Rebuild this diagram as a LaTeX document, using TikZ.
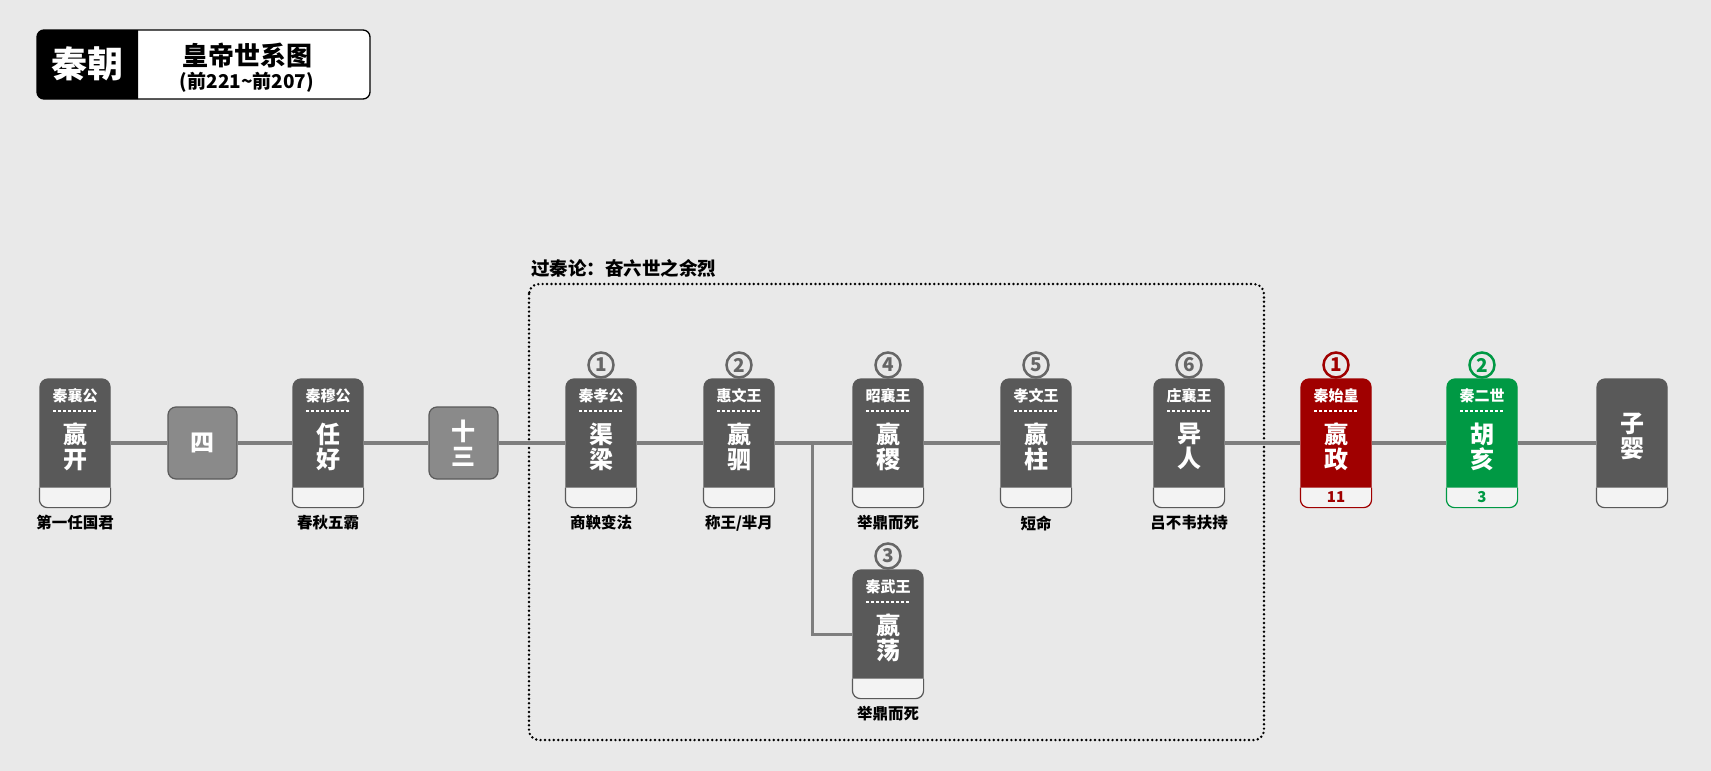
\documentclass[tikz,border=0pt]{standalone}
\usepackage{fontspec}
\setmainfont{Noto Sans CJK SC}
\definecolor{paper}{HTML}{E9E9E9}
\definecolor{cardgray}{HTML}{595959}
\definecolor{boxgray}{HTML}{8A8A8A}
\definecolor{boxborder}{HTML}{5A5A5A}
\definecolor{qred}{HTML}{A00000}
\definecolor{qgreen}{HTML}{009944}
\definecolor{lightpart}{HTML}{F3F3F3}
\definecolor{linegray}{HTML}{7E7E7E}
\definecolor{numgray}{HTML}{666666}
\tikzset{
  card/.style={rounded corners=8pt, minimum width=70pt, minimum height=128pt, inner sep=0pt, line width=1.2pt},
  genbox/.style={rounded corners=8pt, minimum width=69pt, minimum height=72pt, inner sep=0pt, line width=1.2pt,
    fill=boxgray, draw=boxborder, text=white, align=center, font=\bfseries\fontsize{24}{25}\selectfont},
  cardtitle/.style={text=white, font=\bfseries\fontsize{15}{15}\selectfont, inner sep=0pt},
  cardname/.style={text=white, font=\bfseries\fontsize{24}{25}\selectfont, align=center, inner sep=0pt},
  caption/.style={text=black, font=\bfseries\fontsize{15.5}{15.5}\selectfont, inner sep=0pt},
  bottomtext/.style={font=\bfseries\fontsize{15}{15}\selectfont, inner sep=0pt},
  numcircle/.style={circle, draw=#1, text=#1, line width=2.5pt, minimum size=25pt, inner sep=0pt,
    font=\bfseries\fontsize{19}{19}\selectfont},
  mainline/.style={draw=linegray, line width=4pt},
  dotbox/.style={draw=black, line width=2.7pt, dash pattern=on 0pt off 4.4pt, line cap=round, rounded corners=10pt},
}
\newcommand{\qcard}[6]{%
  \node[card, fill=#4, draw=#4] (#1) at (#2,#3) {};
  \path[fill=lightpart, draw=#4, line width=1.2pt, rounded corners=8pt]
    ([yshift=20pt]#1.south west) -- (#1.south west) -- (#1.south east) -- ([yshift=20pt]#1.south east);
  \node[cardtitle] (#1-t) at ([yshift=47pt]#1.center) {#5};
  \draw[white, line width=1.4pt, dash pattern=on 3pt off 2pt]
    ([xshift=-22pt,yshift=32pt]#1.center) -- ([xshift=22pt,yshift=32pt]#1.center);
  \node[cardname] (#1-n) at ([yshift=-3.5pt]#1.center) {#6};
}
\begin{document}
\begin{tikzpicture}[x=1pt,y=-1pt]
\fill[paper] (0,0) rectangle (1711,771);
\useasboundingbox (0,0) rectangle (1711,771);

% title box
\filldraw[fill=white, draw=black, line width=1.3pt, rounded corners=7pt] (37,30) rectangle (370,99);
\fill[black, rounded corners=7pt] (87,30) -- (37,30) -- (37,99) -- (87,99) [sharp corners] -- (138,99) -- (138,30) -- cycle;
\node[text=white, font=\bfseries\fontsize{36}{36}\selectfont, inner sep=0pt] (dyn) at (87,64) {秦朝};
\node[font=\bfseries\fontsize{26}{26}\selectfont, inner sep=0pt] (ttl) at (247,56) {皇帝世系图};
\node[font=\bfseries\fontsize{19}{19}\selectfont, inner sep=0pt] (yrs) at (247,82) {(前221\textasciitilde 前207)};

% dotted group
\draw[dotbox] (529,284) rectangle (1264,740);
\node[anchor=west, font=\bfseries\fontsize{18.5}{18.5}\selectfont, inner sep=0pt] (glabel) at (531,268) {过秦论：奋六世之余烈};

% generation boxes
\node[genbox] (si) at (202.5,443) {四};
\node[genbox] (ss) at (463.5,443) {十\\三};

% cards
\qcard{c1}{75}{443}{cardgray}{秦襄公}{嬴\\开}
\qcard{c2}{328}{443}{cardgray}{秦穆公}{任\\好}
\qcard{c3}{601}{443}{cardgray}{秦孝公}{渠\\梁}
\qcard{c4}{739}{443}{cardgray}{惠文王}{嬴\\驷}
\qcard{c5}{888}{443}{cardgray}{昭襄王}{嬴\\稷}
\qcard{c6}{1036}{443}{cardgray}{孝文王}{嬴\\柱}
\qcard{c7}{1189}{443}{cardgray}{庄襄王}{异\\人}
\qcard{c8}{1336}{443}{qred}{秦始皇}{嬴\\政}
\qcard{c9}{1482}{443}{qgreen}{秦二世}{胡\\亥}
\qcard{wu}{888}{634}{cardgray}{秦武王}{嬴\\荡}

% last card (no title)
\node[card, fill=cardgray, draw=cardgray] (c10) at (1632,443) {};
\path[fill=lightpart, draw=cardgray, line width=1.2pt, rounded corners=8pt]
  ([yshift=20pt]c10.south west) -- (c10.south west) -- (c10.south east) -- ([yshift=20pt]c10.south east);
\node[cardname] (c10-n) at ([yshift=7pt]c10.center) {子\\婴};

% bottom numbers
\node[bottomtext, text=qred] (c8-b) at ([yshift=-54pt]c8.center) {11};
\node[bottomtext, text=qgreen] (c9-b) at ([yshift=-54pt]c9.center) {3};

% circled order numbers
\node[numcircle=numgray] (c3-o) at ([yshift=78pt]c3.center) {1};
\node[numcircle=numgray] (c4-o) at ([yshift=78pt]c4.center) {2};
\node[numcircle=numgray] (c5-o) at ([yshift=78pt]c5.center) {4};
\node[numcircle=numgray] (c6-o) at ([yshift=78pt]c6.center) {5};
\node[numcircle=numgray] (c7-o) at ([yshift=78pt]c7.center) {6};
\node[numcircle=qred] (c8-o) at ([yshift=78pt]c8.center) {1};
\node[numcircle=qgreen] (c9-o) at ([yshift=78pt]c9.center) {2};
\node[numcircle=numgray] (wu-o) at ([yshift=78pt]wu.center) {3};

% captions
\node[caption] (c1-c) at ([yshift=-80pt]c1.center) {第一任国君};
\node[caption] (c2-c) at ([yshift=-80pt]c2.center) {春秋五霸};
\node[caption] (c3-c) at ([yshift=-80pt]c3.center) {商鞅变法};
\node[caption] (c4-c) at ([yshift=-80pt]c4.center) {称王/芈月};
\node[caption] (c5-c) at ([yshift=-80pt]c5.center) {举鼎而死};
\node[caption] (c6-c) at ([yshift=-80pt]c6.center) {短命};
\node[caption] (c7-c) at ([yshift=-80pt]c7.center) {吕不韦扶持};
\node[caption] (wu-c) at ([yshift=-80pt]wu.center) {举鼎而死};

% connectors
\draw[mainline] (c1) -- (si);
\draw[mainline] (si) -- (c2);
\draw[mainline] (c2) -- (ss);
\draw[mainline] (ss) -- (c3);
\draw[mainline] (c3) -- (c4);
\draw[mainline] (c4) -- (c5);
\draw[mainline] (c5) -- (c6);
\draw[mainline] (c6) -- (c7);
\draw[mainline] (c7) -- (c8);
\draw[mainline] (c8) -- (c9);
\draw[mainline] (c9) -- (c10);
\coordinate (br) at (812,443);
\draw[mainline, line width=3pt] (br) |- (wu);
\end{tikzpicture}
\end{document}
